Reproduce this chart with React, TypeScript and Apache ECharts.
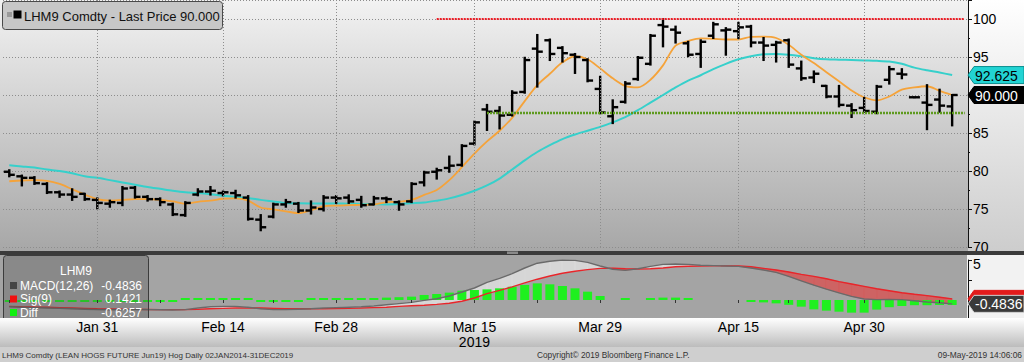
import React, { useEffect, useRef } from "react";
import * as echarts from "echarts";

const dates = ["Jan 22","Jan 23","Jan 24","Jan 25","Jan 28","Jan 29","Jan 30","Jan 31","Feb 1","Feb 4","Feb 5","Feb 6","Feb 7","Feb 8","Feb 11","Feb 12","Feb 13","Feb 14","Feb 15","Feb 19","Feb 20","Feb 21","Feb 22","Feb 25","Feb 26","Feb 27","Feb 28","Mar 1","Mar 4","Mar 5","Mar 6","Mar 7","Mar 8","Mar 11","Mar 12","Mar 13","Mar 14","Mar 15","Mar 18","Mar 19","Mar 20","Mar 21","Mar 22","Mar 25","Mar 26","Mar 27","Mar 28","Mar 29","Apr 1","Apr 2","Apr 3","Apr 4","Apr 5","Apr 8","Apr 9","Apr 10","Apr 11","Apr 12","Apr 15","Apr 16","Apr 17","Apr 18","Apr 22","Apr 23","Apr 24","Apr 25","Apr 26","Apr 29","Apr 30","May 1","May 2","May 3","May 6","May 7","May 8","May 9"];

const opens = [79.9,79.3,79.1,78.3,77.2,76.9,77.0,76.2,75.7,75.8, 77.8,76.6,76.3,75.6,74.2,76.9,77.3,77.1,77.1,76.5, 73.6,74.0,75.6,75.7,74.8,75.0,76.5,76.5,76.2,75.6, 76.4,75.9,76.0,78.5,79.9,80.4,80.8,83.6,88.1,87.9, 87.4,90.4,96.1,97.2,96.2,95.3,94.6,90.8,87.2,89.1, 92.1,94.1,99.2,98.6,96.8,95.4,97.8,98.5,98.4,99.0, 96.9,96.6,97.2,93.5,92.3,91.2,89.8,88.6,88.3,87.8, 92.0,92.8,89.7,89.0,89.4,88.5];
const highs = [80.1,79.4,79.2,78.4,77.3,77.6,77.0,76.4,76.1,77.9, 77.9,76.7,76.4,75.7,75.9,77.6,77.9,77.3,77.4,76.7, 74.2,75.7,76.2,75.8,76.0,76.7,76.7,76.8,76.6,76.6, 76.5,76.0,78.4,79.9,80.3,81.9,83.4,86.5,88.7,88.4, 90.5,94.9,97.9,97.3,96.3,95.4,94.7,92.4,89.3,91.7, 95.0,97.9,100.0,99.0,97.0,97.2,99.5,98.8,99.5,99.1, 97.5,97.0,97.3,94.4,93.1,91.2,91.2,88.8,89.6,91.2, 93.7,93.4,89.7,91.3,90.7,90.0];
const lows = [79.3,78.1,78.3,77.1,76.6,76.2,76.2,75.1,75.3,75.5, 76.5,76.1,75.5,74.2,74.1,76.8,76.9,76.8,76.5,73.6, 72.2,73.9,75.3,74.6,74.4,74.8,75.8,75.8,75.3,75.6, 75.9,74.9,75.9,78.1,79.0,79.9,80.7,83.5,85.4,85.6, 87.3,90.3,91.1,94.6,94.4,92.9,91.8,87.6,86.3,89.0, 92.0,94.0,96.4,96.9,95.1,93.7,97.5,95.3,97.5,96.4, 94.6,94.4,93.7,92.0,91.7,89.7,88.5,87.1,87.8,87.6, 91.5,92.2,89.7,85.5,87.8,86.0];
const closes = [79.5,79.1,78.4,77.2,76.9,76.6,76.3,75.8,75.9,77.7, 76.6,76.3,75.9,74.3,75.8,77.3,77.4,77.2,76.8,73.7, 72.6,75.6,75.9,74.8,75.2,76.5,76.4,76.0,75.5,76.4, 76.3,75.6,78.3,79.8,80.1,80.7,83.3,86.4,87.8,87.3, 90.3,94.6,95.7,95.4,95.5,95.0,91.9,87.7,88.4,91.5, 94.9,97.8,99.0,98.2,95.3,97.0,99.3,98.6,98.9,96.9, 96.5,96.9,94.0,92.2,92.8,89.8,88.7,88.0,87.9,91.1, 93.4,92.7,89.7,88.7,88.6,90.0];

const maFast = [78.65,78.75,78.8,78.7,78.3,77.6,76.9,76.3,76.1,76.2, 76.3,76.3,76.2,76.0,75.7,75.95,76.1,76.35,76.4,76.1, 75.2,74.95,74.7,74.45,74.85,75.35,75.45,75.5,75.55,75.6, 75.9,75.95,76.2,76.85,77.5,78.8,80.5,82.3,83.9,85.3, 87.0,89.2,91.3,92.8,94.3,95.1,94.7,93.5,92.2,91.2, 91.0,92.0,93.9,96.5,97.1,97.45,97.4,97.3,97.3,97.65, 97.67,97.5,96.6,95.3,94.2,93.0,91.8,90.6,89.7,89.3, 89.8,90.7,91.0,91.15,90.55,90.0];
const maSlow = [80.75,80.6,80.45,80.2,80.0,79.7,79.3,79.1,78.8,78.5, 78.2,77.9,77.65,77.4,77.2,77.1,76.95,76.75,76.6,76.45, 76.2,76.0,75.8,75.75,75.74,75.74,75.72,75.7,75.66,75.63, 75.6,75.65,75.75,75.85,76.1,76.4,76.85,77.4,78.1,79.0, 80.2,81.4,82.5,83.4,84.2,84.8,85.3,85.8,86.4,87.1, 88.0,89.0,90.0,91.0,91.9,92.6,93.4,94.1,94.7,95.1, 95.35,95.4,95.3,95.1,94.85,94.7,94.65,94.6,94.55,94.5, 94.4,94.1,93.6,93.25,92.95,92.625];

const macdLine = [-0.85,-0.9,-0.95,-1.0,-1.05,-1.1,-1.15,-1.2,-1.22,-1.2, -1.18,-1.2,-1.22,-1.25,-1.2,-1.0,-0.85,-0.8,-0.8,-0.9, -1.1,-1.2,-1.2,-1.15,-1.1,-1.0,-0.95,-0.9,-0.85,-0.75, -0.6,-0.45,-0.3,-0.05,0.15,0.5,1.0,1.5,2.2,2.7, 3.3,4.0,4.6,4.85,5.0,4.95,4.7,4.25,3.85,3.7, 3.9,4.2,4.45,4.5,4.45,4.35,4.3,4.25,4.2,4.0, 3.75,3.45,2.95,2.4,1.85,1.35,0.9,0.45,0.12,0.05, 0.08,0.05,-0.1,-0.25,-0.35,-0.4836];
const sigLine = [-0.8,-0.85,-0.88,-0.9,-0.95,-1.0,-1.05,-1.1,-1.12,-1.15, -1.17,-1.18,-1.2,-1.2,-1.2,-1.15,-1.1,-1.05,-1.0,-0.98, -1.0,-1.05,-1.1,-1.1,-1.1,-1.1,-1.08,-1.05,-1.0,-0.95, -0.9,-0.8,-0.72,-0.65,-0.55,-0.4,-0.15,0.25,0.8,1.2, 1.65,2.15,2.6,3.0,3.35,3.6,3.8,3.95,3.97,3.9, 3.88,3.9,4.0,4.15,4.22,4.25,4.27,4.27,4.25,4.15, 3.95,3.75,3.5,3.2,2.95,2.65,2.3,2.0,1.7,1.4, 1.15,0.9,0.72,0.55,0.35,0.1421];
const diffHist = [-0.05,-0.05,-0.07,-0.1,-0.1,-0.1,-0.1,-0.1,-0.1,-0.05, -0.01,-0.02,-0.02,-0.05,0.0,0.15,0.25,0.25,0.2,0.08, -0.1,-0.15,-0.1,-0.05,0.0,0.1,0.13,0.15,0.15,0.2, 0.3,0.35,0.42,0.63,0.75,0.92,1.17,1.25,1.33,1.46, 1.67,1.88,2.08,1.96,1.75,1.46,1.04,0.5,null,0.1, null,0.2,0.3,0.3,0.15,null,null,null,null,-0.2, -0.3,-0.42,-0.6,-0.83,-1.17,-1.33,-1.46,-1.58,-1.58,-1.2, -0.9,-0.75,-0.65,-0.65,-0.62,-0.6257];

const priceTicks = [70, 75, 80, 85, 95, 100];
const labelIdx = [7, 17, 26, 37, 47, 58, 68];
const tickIdx = [0, 7, 12, 17, 21, 26, 32, 37, 42, 47, 53, 58, 62, 68, 74];
const yearLabel = "Mar 15";
const yearText = "2019";
const resistance = 100;
const resistanceFrom = 34;
const support = 87.65;
const supportFrom = 38;
const lastPrice = 90.0;
const lastSlow = 92.625;
const lastMacd = -0.4836;
const lastSig = 0.1421;
const lastDiff = -0.6257;

const FONT = '"Liberation Sans", Arial, sans-serif';

function grad(a: string, b: string) {
  return new echarts.graphic.LinearGradient(0, 0, 0, 1, [
    { offset: 0, color: a },
    { offset: 1, color: b },
  ]);
}

function txt(x: number, y: number, text: string, size: number, color: string, align: string, z: number) {
  return {
    type: "text",
    z,
    x,
    y,
    silent: true,
    style: {
      text,
      fill: color,
      font: `${size}px ${FONT}`,
      textAlign: align,
      align,
      textVerticalAlign: "middle",
      verticalAlign: "middle",
    },
  };
}

export default function App() {
  const ref = useRef<HTMLDivElement>(null);
  useEffect(() => {
    const el = ref.current!;
    const chart = echarts.init(el, undefined, { renderer: "svg" });
    const n = dates.length;
    const cats = [...dates, ""];
    const ohlcData = dates.map((_, i) => [i, opens[i], highs[i], lows[i], closes[i]]);
    const fillData = macdLine.slice(0, n - 1).map((m, i) => [i, m, sigLine[i], macdLine[i + 1], sigLine[i + 1]]);
    const gridStyle = { color: "#8d8d8d", type: [1, 2], width: 1 };

    const option: any = {
      animation: false,
      textStyle: { fontFamily: FONT },
      grid: [
        { left: 3, width: 968, top: 0, height: 247 },
        { left: 3, width: 968, top: 260, height: 60 },
      ],
      xAxis: [
        {
          type: "category", gridIndex: 0, data: cats, boundaryGap: true,
          axisLine: { show: false }, axisTick: { show: false }, axisLabel: { show: false }, splitLine: { show: false },
        },
        {
          type: "category", gridIndex: 1, data: cats, boundaryGap: true, offset: -2, z: 10,
          axisLine: { show: false },
          axisTick: {
            show: true, alignWithLabel: true, length: 3,
            interval: (i: number) => tickIdx.includes(i),
            lineStyle: { color: "#333", width: 1 },
          },
          axisLabel: {
            interval: (i: number) => labelIdx.includes(i),
            formatter: (v: string) => (v === yearLabel ? `${v}\n${yearText}` : v),
            fontSize: 14, color: "#000", margin: 1, lineHeight: 15, fontFamily: FONT,
          },
          splitLine: { show: false },
        },
      ],
      yAxis: [
        {
          type: "value", gridIndex: 0, position: "right", offset: -3,
          min: 70, max: 102.5, interval: 5,
          axisLine: { show: true, lineStyle: { color: "#111", width: 1 } },
          axisTick: { show: true, length: 4, lineStyle: { color: "#111" } },
          minorTick: { show: true, splitNumber: 2, length: 2, lineStyle: { color: "#111" } },
          splitLine: { show: true, lineStyle: gridStyle },
          axisLabel: {
            fontSize: 14, color: "#000", margin: 5, fontFamily: FONT,
            formatter: (v: number) => (priceTicks.includes(v) ? String(v) : ""),
          },
        },
        {
          type: "value", gridIndex: 1, position: "right", offset: -3,
          min: -2.5, max: 5, interval: 2.5,
          axisLine: { show: true, lineStyle: { color: "#111", width: 1 } },
          axisTick: { show: true, length: 4, lineStyle: { color: "#111" } },
          splitLine: { show: false },
          axisLabel: {
            fontSize: 14, color: "#000", margin: 5, fontFamily: FONT,
            verticalAlign: "top", lineHeight: 8,
            formatter: (v: number) => (v === 5 ? "5" : ""),
          },
        },
      ],
      series: [
        {
          type: "line", name: "slow", xAxisIndex: 0, yAxisIndex: 0, data: maSlow, symbol: "none",
          smooth: 0.3, z: 2, lineStyle: { color: "#36d0cb", width: 2 },
          markLine: {
            silent: true, symbol: ["none", "none"], label: { show: false }, animation: false,
            data: [
              ...labelIdx.map((i) => ({ xAxis: i, lineStyle: gridStyle })),
              [
                { coord: [resistanceFrom, resistance], lineStyle: { color: "#ee1c25", type: [2, 1], width: 2.2 } },
                { coord: [n, resistance], lineStyle: { color: "#ee1c25", type: [2, 1], width: 2.2 } },
              ],
              [
                { coord: [supportFrom, support], lineStyle: { color: "#5e9a1e", type: [2, 1], width: 2.4 } },
                { coord: [n, support], lineStyle: { color: "#5e9a1e", type: [2, 1], width: 2.4 } },
              ],
            ],
          },
        },
        {
          type: "line", name: "fast", xAxisIndex: 0, yAxisIndex: 0, data: maFast, symbol: "none",
          smooth: 0.3, z: 3, lineStyle: { color: "#f5a33a", width: 1.8 },
        },
        {
          type: "custom", name: "ohlc", xAxisIndex: 0, yAxisIndex: 0, z: 4, data: ohlcData,
          encode: { x: 0, y: [1, 2, 3, 4] },
          renderItem: (params: any, api: any) => {
            const i = api.value(0);
            const pO = api.coord([i, api.value(1)]);
            const pH = api.coord([i, api.value(2)]);
            const pL = api.coord([i, api.value(3)]);
            const pC = api.coord([i, api.value(4)]);
            const st = { stroke: "#000", lineWidth: 2.4 };
            const cx = pH[0];
            return {
              type: "group",
              children: [
                { type: "line", shape: { x1: cx, y1: pH[1] - 1, x2: cx, y2: pL[1] + 1 }, style: st },
                { type: "line", shape: { x1: cx - 5.5, y1: pO[1], x2: cx, y2: pO[1] }, style: st },
                { type: "line", shape: { x1: cx, y1: pC[1], x2: cx + 5.5, y2: pC[1] }, style: st },
              ],
            };
          },
        },
        {
          type: "custom", name: "fill", xAxisIndex: 1, yAxisIndex: 1, z: 1, data: fillData,
          encode: { x: 0, y: [1, 2, 3, 4] },
          renderItem: (params: any, api: any) => {
            const i = api.value(0);
            const m0 = api.value(1), s0 = api.value(2), m1 = api.value(3), s1 = api.value(4);
            const pm0 = api.coord([i, m0]), ps0 = api.coord([i, s0]);
            const pm1 = api.coord([i + 1, m1]), ps1 = api.coord([i + 1, s1]);
            const up = "rgba(226,226,226,0.8)", dn = "rgba(214,88,88,0.85)";
            const d0 = m0 - s0, d1 = m1 - s1;
            if (d0 * d1 < 0) {
              const t = d0 / (d0 - d1);
              const px = pm0[0] + t * (pm1[0] - pm0[0]);
              const py = pm0[1] + t * (pm1[1] - pm0[1]);
              const c0 = d0 > 0 ? up : dn, c1 = d1 > 0 ? up : dn;
              return {
                type: "group",
                children: [
                  { type: "polygon", shape: { points: [pm0, [px, py], ps0] }, style: { fill: c0, stroke: c0, lineWidth: 0.5 } },
                  { type: "polygon", shape: { points: [[px, py], pm1, ps1] }, style: { fill: c1, stroke: c1, lineWidth: 0.5 } },
                ],
              };
            }
            const c = d0 + d1 > 0 ? up : dn;
            return { type: "polygon", shape: { points: [pm0, pm1, ps1, ps0] }, style: { fill: c, stroke: c, lineWidth: 0.5 } };
          },
        },
        {
          type: "bar", name: "Diff", xAxisIndex: 1, yAxisIndex: 1, data: diffHist, barWidth: 9,
          barMinHeight: 2, z: 2, itemStyle: { color: "#1ff01f" },
        },
        {
          type: "line", name: "Sig", xAxisIndex: 1, yAxisIndex: 1, data: sigLine, symbol: "none",
          z: 3, lineStyle: { color: "#e8252a", width: 1.4 },
        },
        {
          type: "line", name: "MACD", xAxisIndex: 1, yAxisIndex: 1, data: macdLine, symbol: "none",
          z: 3, lineStyle: { color: "#6a6a6a", width: 1.4 },
        },
      ],
    };
    chart.setOption(option);

    const yP = (v: number) => chart.convertToPixel({ yAxisIndex: 0 }, v) as number;
    const yM = (v: number) => chart.convertToPixel({ yAxisIndex: 1 }, v) as number;

    const box = (y: number, fill: string, stroke: string, z: number) => ({
      type: "polygon", z, silent: true,
      shape: { points: [[968, y], [974, y - 8.5], [1024, y - 8.5], [1024, y + 8.5], [974, y + 8.5]] },
      style: { fill, stroke, lineWidth: 1 },
    });
    const label = (y: number, fill: string, stroke: string, color: string, text: string, z: number) => [
      box(y, fill, stroke, z),
      txt(975, y + 0.5, text, 14, color, "left", z + 1),
    ];

    const g: any[] = [
      { type: "rect", z: -10, silent: true, shape: { x: 0, y: 0, width: 968, height: 251 }, style: { fill: grad("#f2f2f2", "#a7a7a7") } },
      { type: "rect", z: -10, silent: true, shape: { x: 968, y: 0, width: 56, height: 251 }, style: { fill: grad("#ffffff", "#cdcdcd") } },
      { type: "rect", z: -10, silent: true, shape: { x: 0, y: 255, width: 967, height: 63 }, style: { fill: "#a4a4a4" } },
      { type: "rect", z: -10, silent: true, shape: { x: 967, y: 255, width: 57, height: 63 }, style: { fill: "#f2f2f2" } },
      { type: "rect", z: 5, silent: true, shape: { x: 0, y: 251, width: 1024, height: 4 }, style: { fill: "#3b3b3b" } },
      { type: "rect", z: 6, silent: true, shape: { x: 507, y: 251.5, width: 11, height: 2.5 }, style: { fill: "#8a8a8a" } },
      { type: "rect", z: 5, silent: true, shape: { x: 0, y: 318, width: 1024, height: 29 }, style: { fill: grad("#ffffff", "#bcbcbc") } },
      { type: "rect", z: 5, silent: true, shape: { x: 0, y: 347, width: 1024, height: 15 }, style: { fill: "#cfcfcf" } },
      txt(2, 355, "LHM9 Comdty (LEAN HOGS FUTURE Jun19) Hog Daily 02JAN2014-31DEC2019", 8, "#333", "left", 6),
      txt(537, 355, "Copyright\u00a9 2019 Bloomberg Finance L.P.", 8.3, "#333", "left", 6),
      txt(1022, 355, "09-May-2019 14:06:06", 8.4, "#333", "right", 6),
      // title box
      { type: "rect", z: 8, silent: true, shape: { x: 2.5, y: 1.5, width: 220, height: 28, r: 3 }, style: { fill: "#c7c7c7", stroke: "#4a4a4a", lineWidth: 1 } },
      { type: "rect", z: 9, silent: true, shape: { x: 7, y: 12, width: 5, height: 5 }, style: { fill: "#9a9a9a" } },
      { type: "rect", z: 9, silent: true, shape: { x: 13.5, y: 10.5, width: 8, height: 8 }, style: { fill: "#000" } },
      txt(24, 16, `LHM9 Comdty - Last Price ${lastPrice.toFixed(3)}`, 13, "#111", "left", 9),
      // MACD legend
      { type: "rect", z: 4, silent: true, shape: { x: 3.5, y: 255.5, width: 145, height: 70, r: 3 }, style: { fill: "rgba(70,70,70,0.28)", stroke: "#3c3c3c", lineWidth: 1 } },
      txt(76, 271, "LHM9", 12, "#fff", "center", 4),
      { type: "rect", z: 4, silent: true, shape: { x: 10, y: 282, width: 7, height: 7 }, style: { fill: "#444" } },
      txt(20, 285.5, "MACD(12,26)", 12, "#fff", "left", 4),
      txt(142, 285.5, lastMacd.toFixed(4), 12, "#fff", "right", 4),
      { type: "rect", z: 4, silent: true, shape: { x: 10, y: 295.5, width: 7, height: 7 }, style: { fill: "#f01010" } },
      txt(20, 299, "Sig(9)", 12, "#fff", "left", 4),
      txt(142, 299, lastSig.toFixed(4), 12, "#fff", "right", 4),
      { type: "rect", z: 4, silent: true, shape: { x: 10, y: 309, width: 7, height: 7 }, style: { fill: "#10f010" } },
      txt(20, 312.5, "Diff", 12, "#fff", "left", 4),
      txt(142, 312.5, lastDiff.toFixed(4), 12, "#fff", "right", 4),
      ...label(yP(lastSlow), "#22d3d3", "#0a8f8f", "#000", lastSlow.toFixed(3), 12),
      ...label(yP(lastPrice), "#000", "#000", "#fff", lastPrice.toFixed(3), 14),
      box(yM(lastSig), "#e31b1b", "#e31b1b", 12),
      ...label(yM(lastMacd), "#3a3a3a", "#d0d0d0", "#fff", lastMacd.toFixed(4), 14),
    ];
    chart.setOption({ graphic: g });

    return () => chart.dispose();
  }, []);

  return (
    <div
      ref={ref}
      style={{ position: "fixed", left: 0, top: 0, width: 1024, height: 362, background: "#fff" }}
    />
  );
}
